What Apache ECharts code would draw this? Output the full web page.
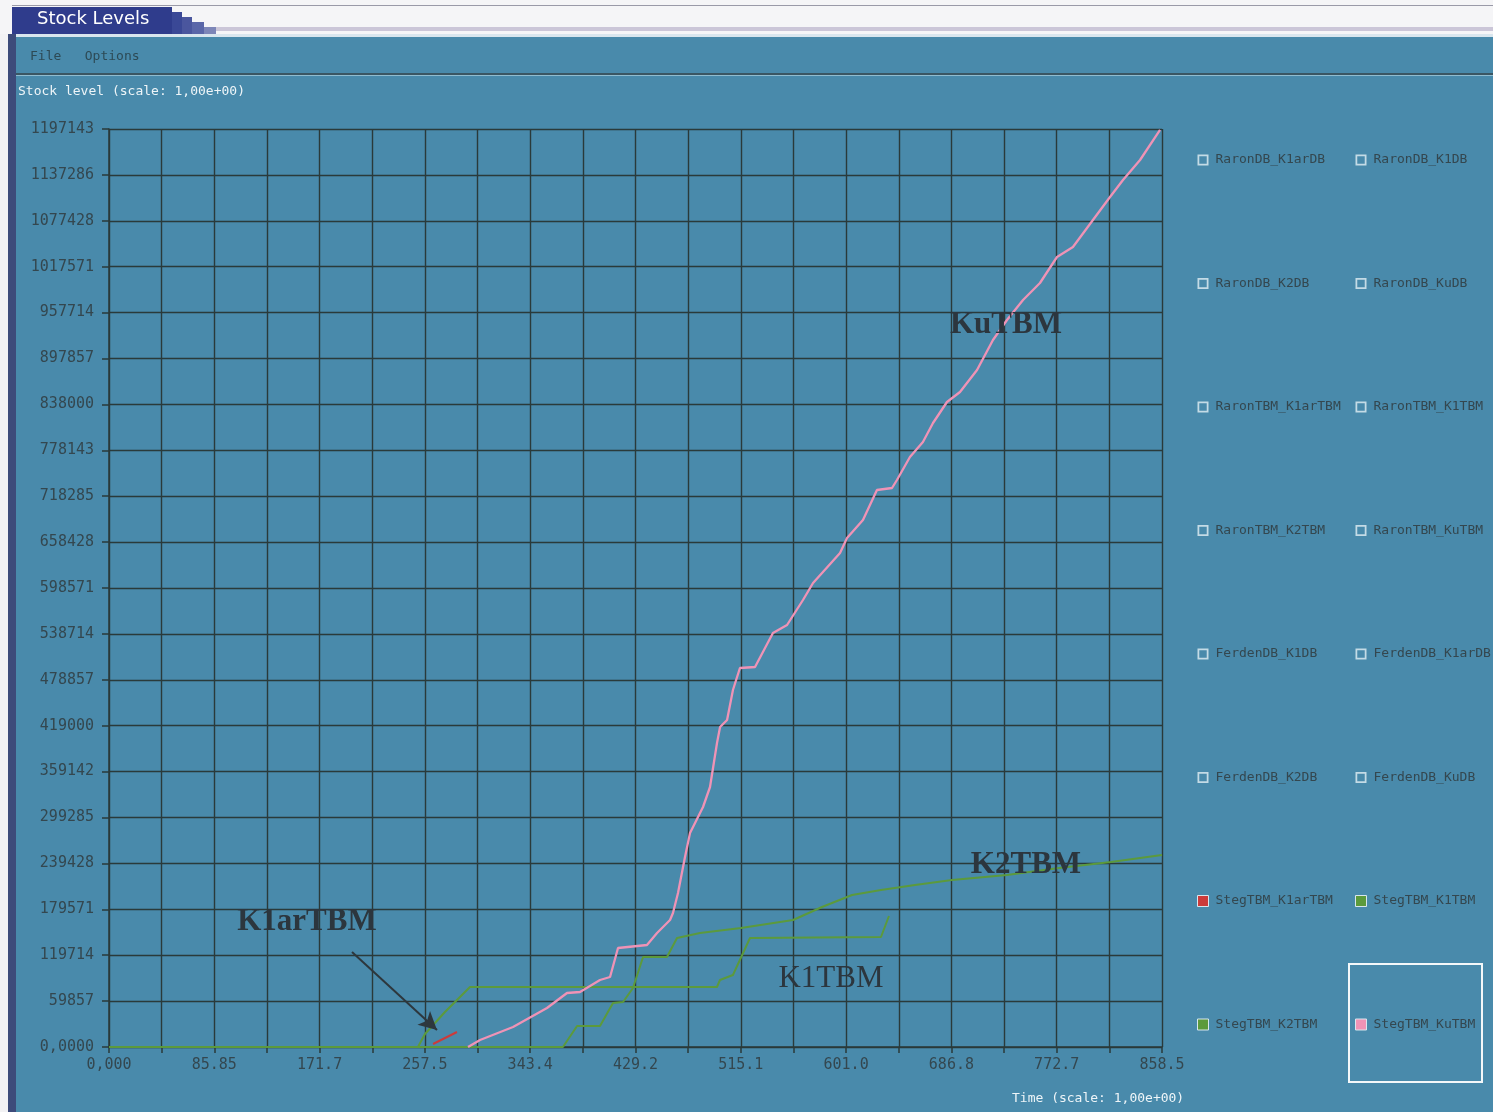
<!DOCTYPE html>
<html>
<head>
<meta charset="utf-8">
<title>Stock Levels</title>
<script src="https://cdn.jsdelivr.net/npm/echarts@6/dist/echarts.min.js"></script>
<style>
  html, body { margin: 0; padding: 0; background: #ffffff; }
  #main { width: 1493px; height: 1112px; }
</style>
</head>
<body>
<div id="main"></div>
<script>
// tick labels as printed on the axes
const xTickLabels = ['0,000', '85.85', '171.7', '257.5', '343.4', '429.2', '515.1', '601.0', '686.8', '772.7', '858.5'];
const yTickLabels = ['0,0000', '59857', '119714', '179571', '239428', '299285', '359142', '419000', '478857', '538714',
  '598571', '658428', '718285', '778143', '838000', '897857', '957714', '1017571', '1077428', '1137286', '1197143'];

// legend entries, two columns
const legendLeft = ['RaronDB_K1arDB', 'RaronDB_K2DB', 'RaronTBM_K1arTBM', 'RaronTBM_K2TBM',
  'FerdenDB_K1DB', 'FerdenDB_K2DB', 'StegTBM_K1arTBM', 'StegTBM_K2TBM'];
const legendRight = ['RaronDB_K1DB', 'RaronDB_KuDB', 'RaronTBM_K1TBM', 'RaronTBM_KuTBM',
  'FerdenDB_K1arDB', 'FerdenDB_KuDB', 'StegTBM_K1TBM', 'StegTBM_KuTBM'];

// StegTBM_KuTBM
const kuTime = [292.7, 302.5, 329.4, 357.1, 373.4, 384.0, 400.3, 408.5, 415.0, 438.6, 446.8, 457.4, 459.8, 463.9,
  469.6, 473.7, 484.3, 490.0, 495.7, 498.2, 503.9, 508.7, 514.4, 526.7, 541.3, 552.8, 565.8, 574.0, 596.0, 601.7,
  614.7, 626.1, 638.4, 642.4, 653.0, 663.6, 671.8, 683.2, 693.8, 707.7, 720.7, 732.1, 745.2, 759.0, 772.9, 785.9,
  802.2, 816.1, 826.7, 840.6, 856.9];
const kuLevel = [0, 9129, 26082, 50859, 70420, 71724, 87373, 91286, 129104, 133016, 148665, 165618, 174747, 200829,
  247775, 279073, 312979, 339061, 396440, 417306, 426434, 465557, 494246, 495550, 539889, 550322, 582924, 605093,
  644215, 663776, 687250, 726372, 728980, 739413, 769407, 788968, 813746, 841132, 854172, 882862, 921985, 948067,
  974149, 996317, 1030225, 1043266, 1078474, 1108468, 1130637, 1156718, 1196000];

// StegTBM_K1arTBM
const k1arTime = [264.2, 275.6, 283.7];
const k1arLevel = [3912, 13041, 19561];

// StegTBM_K1TBM
const k1Time = [0, 251.9, 257.6, 273.9, 294.3, 495.7, 498.1, 508.7, 522.6, 629.4, 635.9];
const k1Level = [0, 0, 16953, 45643, 78245, 78245, 87373, 93894, 142145, 143449, 170835];

// StegTBM_K2TBM
const k2Time = [0, 370.1, 381.6, 400.3, 410.9, 419.1, 427.2, 435.4, 454.9, 463.1, 481.8, 515.3, 557.7, 581.3,
  605.8, 629.4, 657.1, 687.3, 732.1, 774.5, 816.9, 858.5];
const k2Level = [0, 0, 27386, 27386, 57380, 58684, 76941, 117367, 117367, 142145, 148665, 155186, 165618, 182571,
  198220, 204741, 211261, 217781, 224302, 233430, 241255, 250383];

const pairs = (t, v) => t.map((x, i) => [x, v[i]]);

const xMax = Number(xTickLabels[xTickLabels.length - 1]);
const yMax = Number(yTickLabels[yTickLabels.length - 1]);
const xStep = xMax / 20;
const yStep = yMax / 20;

const gridColor = '#2a3a3a';
const labelColor = '#34474f';
const monoFont = 'DejaVu Sans Mono';
const bg = '#498aab';

const seriesColors = {
  StegTBM_K1arTBM: '#cc3b3b',
  StegTBM_K1TBM: '#5c9a3c',
  StegTBM_K2TBM: '#5c9a3c',
  StegTBM_KuTBM: '#ef93b6'
};

const hollowBox = 'path://M0,0H10V10H0Z M1.6,1.6V8.4H8.4V1.6Z';
const legendItem = (name) => seriesColors[name]
  ? { name: name, icon: 'rect', itemStyle: { color: seriesColors[name], borderColor: '#d8e6ee', borderWidth: 1 } }
  : { name: name, icon: hollowBox, itemStyle: { color: '#c4dbe6' } };

const legendBase = {
  orient: 'vertical',
  top: 148,
  itemWidth: 11,
  itemHeight: 11,
  itemGap: 109.5,
  selectedMode: false,
  textStyle: { color: labelColor, fontFamily: monoFont, fontSize: 13, lineHeight: 14, padding: [0, 0, 0, 2] }
};

const annotLabel = (text, t, v, bold) => ({
  coord: [t, v],
  symbol: 'circle',
  symbolSize: 1,
  itemStyle: { color: 'rgba(0,0,0,0)' },
  label: {
    show: true,
    position: 'inside',
    formatter: text,
    color: '#2c363e',
    fontFamily: 'Liberation Serif',
    fontWeight: bold ? 'bold' : 'normal',
    fontSize: 31
  }
});

const allNames = [];
for (let i = 0; i < legendLeft.length; i++) {
  allNames.push(legendLeft[i], legendRight[i]);
}

const dataByName = {
  StegTBM_K1arTBM: pairs(k1arTime, k1arLevel),
  StegTBM_K1TBM: pairs(k1Time, k1Level),
  StegTBM_K2TBM: pairs(k2Time, k2Level),
  StegTBM_KuTBM: pairs(kuTime, kuLevel)
};

const series = allNames.map((name) => {
  const s = {
    name: name,
    type: 'line',
    showSymbol: false,
    silent: true,
    data: dataByName[name] || [],
    lineStyle: { color: seriesColors[name] || '#c4dbe6', width: 2 },
    itemStyle: { color: seriesColors[name] || '#c4dbe6' }
  };
  if (name === 'StegTBM_KuTBM') {
    s.lineStyle.width = 2.3;
    s.z = 4;
    s.markPoint = {
      silent: true,
      data: [
        annotLabel('KuTBM', 731.3, 941000, true),
        annotLabel('K2TBM', 747.6, 238000, true),
        annotLabel('K1TBM', 588.6, 89000, false),
        annotLabel('K1arTBM', 161.4, 163000, true)
      ]
    };
  }
  if (name === 'StegTBM_K1arTBM') {
    s.z = 5;
    s.markLine = {
      silent: true,
      symbol: ['none', 'arrow'],
      symbolSize: [14, 18],
      label: { show: false },
      lineStyle: { color: '#2d373d', width: 2, type: 'solid' },
      data: [[{ coord: [198.1, 123888] }, { coord: [267.4, 22169] }]]
    };
  }
  return s;
});

const chart = echarts.init(document.getElementById('main'), null, { renderer: 'canvas' });

const option = {
  animation: false,
  backgroundColor: bg,
  grid: { left: 109, right: 331, top: 129, bottom: 65, outerBoundsMode: 'none' },
  xAxis: {
    type: 'value',
    min: 0,
    max: xMax,
    interval: xStep,
    axisLine: { show: true, onZero: false, lineStyle: { color: gridColor, width: 1.5 } },
    axisTick: { show: true, length: 6, lineStyle: { color: gridColor, width: 1.5 } },
    axisLabel: {
      margin: 11,
      color: labelColor,
      fontFamily: monoFont,
      fontSize: 15,
      showMaxLabel: true,
      formatter: (v) => {
        const i = Math.round(v / xStep);
        return i % 2 === 0 ? (xTickLabels[i / 2] || '') : '';
      }
    },
    splitLine: { show: true, lineStyle: { color: gridColor, width: 1.4 } }
  },
  yAxis: {
    type: 'value',
    min: 0,
    max: yMax,
    interval: yStep,
    axisLine: { show: true, lineStyle: { color: gridColor, width: 1.5 } },
    axisTick: { show: true, length: 7, lineStyle: { color: gridColor, width: 1.5 } },
    axisLabel: {
      margin: 15,
      color: labelColor,
      fontFamily: monoFont,
      fontSize: 15,
      showMaxLabel: true,
      formatter: (v) => yTickLabels[Math.round(v / yStep)] || ''
    },
    splitLine: { show: true, lineStyle: { color: gridColor, width: 1.4 } }
  },
  legend: [
    Object.assign({}, legendBase, { left: 1192, data: legendLeft.map(legendItem) }),
    Object.assign({}, legendBase, { left: 1350, data: legendRight.map(legendItem) })
  ],
  graphic: [
    // window title strip
    { type: 'rect', shape: { x: 0, y: 0, width: 1493, height: 34 }, style: { fill: '#f5f5f7' }, silent: true },
    { type: 'rect', shape: { x: 170, y: 27, width: 1323, height: 4 }, style: { fill: '#cbc6d8' }, silent: true },
    { type: 'rect', shape: { x: 12, y: 5, width: 1481, height: 1 }, style: { fill: '#9a9aa8' }, silent: true },
    { type: 'rect', shape: { x: 12, y: 7, width: 160, height: 27 }, style: { fill: '#2f3c8c' }, silent: true },
    { type: 'rect', shape: { x: 172, y: 12, width: 10, height: 22 }, style: { fill: '#3a4896' }, silent: true },
    { type: 'rect', shape: { x: 182, y: 17, width: 10, height: 17 }, style: { fill: '#4a569e' }, silent: true },
    { type: 'rect', shape: { x: 192, y: 22, width: 12, height: 12 }, style: { fill: '#5a66a8' }, silent: true },
    { type: 'rect', shape: { x: 204, y: 27, width: 12, height: 7 }, style: { fill: '#7d86b8' }, silent: true },
    { type: 'text', left: 37, top: 10, silent: true,
      style: { text: 'Stock Levels', fill: '#ffffff', font: '18px "DejaVu Sans"' } },
    // left frame
    { type: 'rect', shape: { x: 0, y: 34, width: 8, height: 1078 }, style: { fill: '#f2f2f4' }, silent: true },
    { type: 'rect', shape: { x: 8, y: 34, width: 8, height: 1078 }, style: { fill: '#3d4b7a' }, silent: true },
    { type: 'rect', shape: { x: 16, y: 34, width: 1477, height: 3 }, style: { fill: '#d9e6ee' }, silent: true },
    // menu bar
    { type: 'text', left: 30, top: 50, silent: true,
      style: { text: 'File   Options', fill: '#2d4a55', font: '13px "DejaVu Sans Mono"' } },
    { type: 'rect', shape: { x: 16, y: 73, width: 1477, height: 2 }, style: { fill: '#3a5663' }, silent: true },
    { type: 'rect', shape: { x: 16, y: 75, width: 1477, height: 1 }, style: { fill: '#8fbcd0' }, silent: true },
    // axis titles
    { type: 'text', left: 18, top: 85, silent: true,
      style: { text: 'Stock level (scale: 1,00e+00)', fill: '#eef5f8', font: '13px "DejaVu Sans Mono"' } },
    { type: 'text', left: 1012, top: 1092, silent: true,
      style: { text: 'Time (scale: 1,00e+00)', fill: '#eef5f8', font: '13px "DejaVu Sans Mono"' } },
    // focus box round the last legend entry
    { type: 'rect', shape: { x: 1349, y: 964, width: 133, height: 118 },
      style: { fill: 'none', stroke: '#f4f8fa', lineWidth: 2 }, silent: true }
  ],
  series: series
};

chart.setOption(option);
</script>
</body>
</html>
